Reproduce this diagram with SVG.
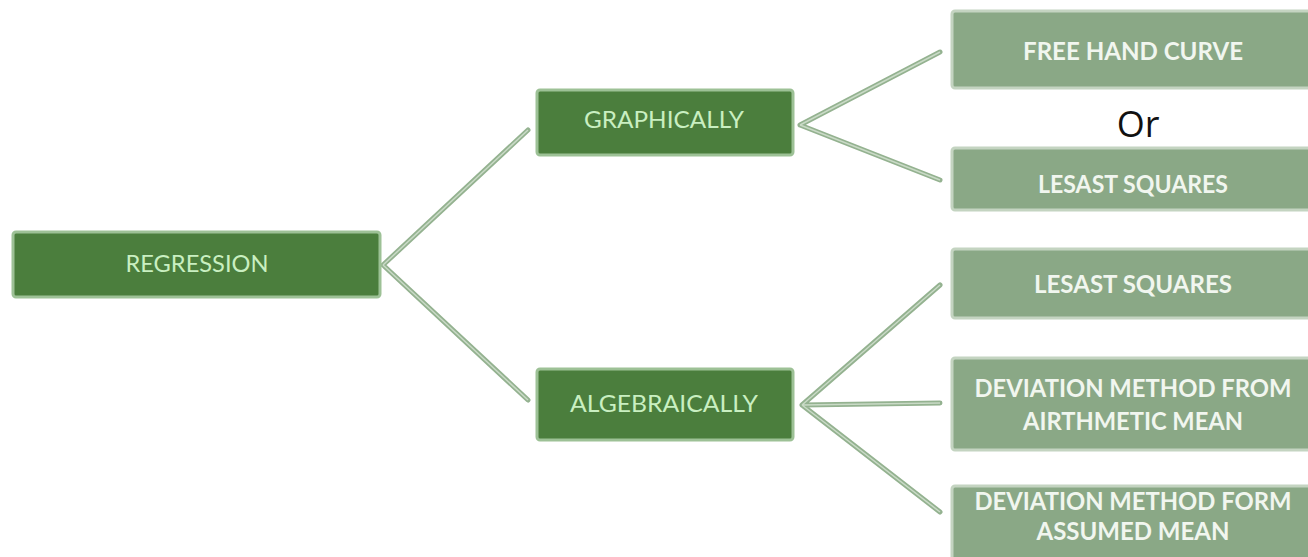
<svg xmlns="http://www.w3.org/2000/svg" width="1308" height="557" viewBox="0 0 1308 557">
<style>
.dark{fill:#4b7e3d;stroke:#9dc196;stroke-width:3}
.light{fill:#8aa886;stroke:#c4d4c1;stroke-width:3}
.conn{stroke:#94b290;stroke-width:5;fill:none;stroke-linecap:round}
.conn2{stroke:#c9dac6;stroke-width:1.5;fill:none}
.td{font-family:Lato,"Liberation Sans",sans-serif;font-size:24px;fill:#c9efc1;text-anchor:middle}
.tl{font-family:Lato,"Liberation Sans",sans-serif;font-size:24px;fill:#f1f6ef;text-anchor:middle;font-weight:bold}
.or{font-family:"Open Sans","Liberation Sans",sans-serif;font-size:36px;fill:#111;text-anchor:middle}
</style>
<rect width="1308" height="557" fill="#ffffff"/>
<g id="connectors">
<path class="conn" d="M383,265 L528,130 M383,265 L528,400 M800,125 L940,52 M800,125 L940,180 M802,405 L940,285 M802,405 L940,403 M802,405 L940,512"/>
<path class="conn2" d="M383,265 L528,130 M383,265 L528,400 M800,125 L940,52 M800,125 L940,180 M802,405 L940,285 M802,405 L940,403 M802,405 L940,512"/>
</g>
<g id="regression">
<rect class="dark" x="13" y="232" width="367" height="65" rx="3"/>
<text class="td" x="197" y="272" textLength="143" lengthAdjust="spacingAndGlyphs">REGRESSION</text>
</g>
<g id="graphically">
<rect class="dark" x="537" y="90" width="256" height="65" rx="3"/>
<text class="td" x="664" y="128" textLength="160" lengthAdjust="spacingAndGlyphs">GRAPHICALLY</text>
</g>
<g id="algebraically">
<rect class="dark" x="537" y="369" width="256" height="71" rx="3"/>
<text class="td" x="664" y="412" textLength="188" lengthAdjust="spacingAndGlyphs">ALGEBRAICALLY</text>
</g>
<g id="freehand">
<rect class="light" x="952" y="11" width="360" height="77" rx="3"/>
<text class="tl" x="1133" y="60" textLength="220" lengthAdjust="spacingAndGlyphs">FREE HAND CURVE</text>
</g>
<g id="or">
<text class="or" x="1138" y="137">Or</text>
</g>
<g id="leastsquares1">
<rect class="light" x="952" y="148" width="360" height="62" rx="3"/>
<text class="tl" x="1133" y="193" textLength="190" lengthAdjust="spacingAndGlyphs">LESAST SQUARES</text>
</g>
<g id="leastsquares2">
<rect class="light" x="952" y="249" width="360" height="69" rx="3"/>
<text class="tl" x="1133" y="293" textLength="198" lengthAdjust="spacingAndGlyphs">LESAST SQUARES</text>
</g>
<g id="deviation-am">
<rect class="light" x="952" y="358" width="360" height="92" rx="3"/>
<text class="tl" x="1133" y="397" textLength="317" lengthAdjust="spacingAndGlyphs">DEVIATION METHOD FROM</text>
<text class="tl" x="1133" y="430" textLength="220" lengthAdjust="spacingAndGlyphs">AIRTHMETIC MEAN</text>
</g>
<g id="deviation-assumed">
<rect class="light" x="952" y="486" width="360" height="80" rx="3"/>
<text class="tl" x="1133" y="510" textLength="317" lengthAdjust="spacingAndGlyphs">DEVIATION METHOD FORM</text>
<text class="tl" x="1133" y="540" textLength="193" lengthAdjust="spacingAndGlyphs">ASSUMED MEAN</text>
</g>
</svg>
